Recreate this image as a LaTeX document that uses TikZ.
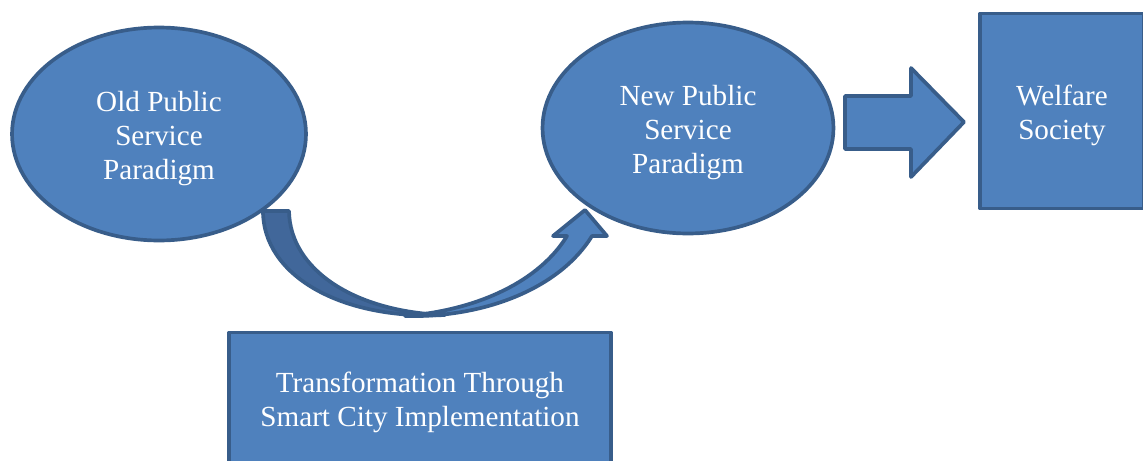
\documentclass[tikz,border=0pt]{standalone}
\usepackage{fontspec}
\setmainfont{Liberation Serif}
\definecolor{paneblue}{HTML}{4F81BD}
\definecolor{paneedge}{HTML}{385D8A}
\definecolor{paneshade}{HTML}{41679A}
\usetikzlibrary{shapes.geometric}
\newcommand{\liftlines}[1]{\raisebox{-0.1cm}[\height][\depth]{\begin{tabular}{@{}c@{}}#1\end{tabular}}}

\begin{document}
\begin{tikzpicture}[x=0.02cm, y=-0.02cm,
    pane/.style={draw=paneedge, fill=paneblue, line width=2.1pt, line join=round, text=white, font=\fontsize{16.6}{19.4}\selectfont},
    stage/.style={pane, ellipse, inner sep=0pt}]
  \useasboundingbox (0,0) rectangle (1143,460);
  \clip (0,0) rectangle (1143,460);

  % Curved arrow - shaded back part
  \filldraw[pane, fill=paneshade] (263,211) -- (289,211) .. controls (290,270) and (355,312) .. (445,315)
    .. controls (340,320) and (263,275) .. cycle;

  % Curved arrow - front part with head
  \filldraw[pane] (405,316) .. controls (485,318) and (560,288) .. (592,236) -- (607,236) -- (585,210)
    -- (553,236) -- (567,236) .. controls (540,280) and (480,310) .. cycle;

  % Paradigms
  \node[stage, minimum width=5.88cm, minimum height=4.26cm] (old) at (159,134) {\liftlines{Old Public\\Service\\Paradigm}};
  \node[stage, minimum width=5.82cm, minimum height=4.22cm] (new) at (688,128) {\liftlines{New Public\\Service\\Paradigm}};

  % Outcome
  \node[pane, minimum width=3.28cm, minimum height=3.9cm] (welfare) at (1062,111) {\liftlines{Welfare\\Society}};

  % Block arrow towards welfare
  \filldraw[pane] (845,96) -- (911,96) -- (911,68) -- (964,122) -- (911,177) -- (911,149) -- (845,149) -- cycle;

  % Transformation driver
  \node[pane, minimum width=7.64cm, minimum height=2.62cm] (change) at (420,398) {\liftlines{Transformation Through\\Smart City Implementation}};
\end{tikzpicture}
\end{document}
